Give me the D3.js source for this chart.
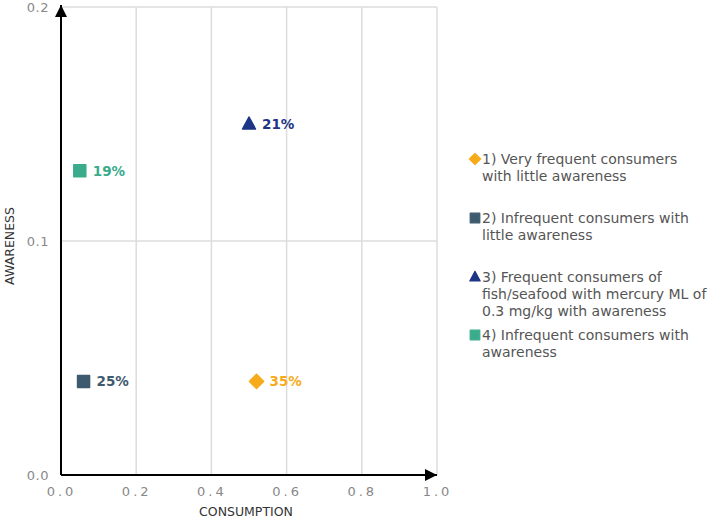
<!DOCTYPE html>
<html>
<head>
<meta charset="utf-8">
<script src="https://cdn.jsdelivr.net/npm/d3@7"></script>
<style>
  body { margin: 0; background: #fff; }
  text { font-family: "DejaVu Sans", Verdana, sans-serif; }
</style>
</head>
<body>
<div id="container"></div>
<script>
// data
let groups = [
  "1) Very frequent consumers with little awareness",
  "2) Infrequent consumers with little awareness",
  "3) Frequent consumers of fish/seafood with mercury ML of 0.3 mg/kg with awareness",
  "4) Infrequent consumers with awareness"
];
let legendLines = [
  ["1) Very frequent consumers", "with little awareness"],
  ["2) Infrequent consumers with", "little awareness"],
  ["3) Frequent consumers of", "fish/seafood with mercury ML of", "0.3 mg/kg with awareness"],
  ["4) Infrequent consumers with", "awareness"]
];
let consumption = [0.52, 0.06, 0.50, 0.05];
let awareness = [0.04, 0.04, 0.15, 0.13];
let shares = ["35%", "25%", "21%", "19%"];
let colors = ["#f7ab1a", "#3e5a6e", "#1e3485", "#3aac8c"];
let shapes = ["diamond", "square", "triangle", "square"];
let xTicks = [0, 0.2, 0.4, 0.6, 0.8, 1.0];
let yTicks = [0, 0.1, 0.2];

let viz = d3.select("#container")
  .append("svg")
    .attr("width", 709)
    .attr("height", 521)
;

let x = d3.scaleLinear().domain([0, 1]).range([61, 437]);
let y = d3.scaleLinear().domain([0, 0.2]).range([475, 7]);

// grid
viz.append("g")
  .selectAll("line")
  .data(xTicks.slice(1))
  .join("line")
    .attr("x1", d => x(d))
    .attr("x2", d => x(d))
    .attr("y1", y(0))
    .attr("y2", y(0.2))
    .attr("stroke", "#dcdcdc")
    .attr("stroke-width", 1.5)
;
viz.append("g")
  .selectAll("line")
  .data(yTicks.slice(1))
  .join("line")
    .attr("x1", x(0))
    .attr("x2", x(1))
    .attr("y1", d => y(d))
    .attr("y2", d => y(d))
    .attr("stroke", "#dcdcdc")
    .attr("stroke-width", 1.5)
;

// axes
let xAxis = viz.append("g")
  .attr("transform", "translate(0," + y(0) + ")")
  .call(d3.axisBottom(x).tickValues(xTicks).tickFormat(d3.format(".1f")).tickSize(0).tickPadding(12));
let yAxis = viz.append("g")
  .attr("transform", "translate(" + x(0) + ",0)")
  .call(d3.axisLeft(y).tickValues(yTicks).tickFormat(d3.format(".1f")).tickSize(0).tickPadding(12));

xAxis.select(".domain").remove();
yAxis.select(".domain").remove();
xAxis.selectAll("text")
    .attr("fill", "#888")
    .attr("font-family", "DejaVu Sans")
    .attr("font-size", 13)
    .attr("letter-spacing", 3);
yAxis.selectAll("text")
    .attr("fill", "#888")
    .attr("font-family", "DejaVu Sans")
    .attr("font-size", 13)
    .attr("letter-spacing", 0.5);

viz.append("defs").append("marker")
    .attr("id", "arrow")
    .attr("viewBox", "0 0 10 10")
    .attr("refX", 10)
    .attr("refY", 5)
    .attr("markerWidth", 12)
    .attr("markerHeight", 12)
    .attr("markerUnits", "userSpaceOnUse")
    .attr("orient", "auto")
  .append("path")
    .attr("d", "M0,0 L10,5 L0,10 Z")
    .attr("fill", "black")
;

viz.append("line")
    .attr("x1", x(0))
    .attr("y1", y(0))
    .attr("x2", x(1))
    .attr("y2", y(0))
    .attr("stroke", "black")
    .attr("stroke-width", 2)
    .attr("marker-end", "url(#arrow)")
;
viz.append("line")
    .attr("x1", x(0))
    .attr("y1", y(0))
    .attr("x2", x(0))
    .attr("y2", y(0.2) - 2)
    .attr("stroke", "black")
    .attr("stroke-width", 2)
    .attr("marker-end", "url(#arrow)")
;

// axis titles
viz.append("text")
    .text("CONSUMPTION")
    .attr("x", 246)
    .attr("y", 516)
    .attr("text-anchor", "middle")
    .attr("font-size", 12.5)
    .attr("fill", "#333")
;
viz.append("text")
    .text("AWARENESS")
    .attr("transform", "translate(14," + (y(0.1) + 5) + ") rotate(-90)")
    .attr("text-anchor", "middle")
    .attr("font-size", 12.5)
    .attr("fill", "#333")
;

// marker shapes
function shapePath(s) {
  if (s == "diamond") return "M0,-7 L7,0 L0,7 L-7,0 Z";
  if (s == "triangle") return "M0,-7 L6.5,5 L-6.5,5 Z";
  return "M-6,-6 L6,-6 L6,6 L-6,6 Z";
}

let pts = viz.append("g")
  .selectAll("g")
  .data(groups)
  .join("g")
    .attr("transform", (d, i) => "translate(" + x(consumption[i]) + "," + y(awareness[i]) + ")")
;
pts.append("path")
    .attr("d", (d, i) => shapePath(shapes[i]))
    .attr("fill", (d, i) => colors[i])
    .attr("stroke", (d, i) => colors[i])
    .attr("stroke-width", 1.5)
    .attr("stroke-linejoin", "round")
;
pts.append("text")
    .text((d, i) => shares[i])
    .attr("x", 13)
    .attr("y", 5)
    .attr("font-size", 13.5)
    .attr("font-weight", "bold")
    .attr("fill", (d, i) => colors[i])
;

// legend
let legendY = [159, 218, 277, 335];
let leg = viz.append("g")
  .selectAll("g")
  .data(groups)
  .join("g")
    .attr("transform", (d, i) => "translate(475," + legendY[i] + ")")
;
leg.append("path")
    .attr("d", (d, i) => shapePath(shapes[i]))
    .attr("transform", "scale(0.8)")
    .attr("fill", (d, i) => colors[i])
    .attr("stroke", (d, i) => colors[i])
    .attr("stroke-width", 1.5)
    .attr("stroke-linejoin", "round")
;
leg.append("text")
    .attr("x", 7)
    .attr("y", 5)
    .attr("font-size", 14)
    .attr("fill", "#555")
  .selectAll("tspan")
  .data((d, i) => legendLines[i])
  .join("tspan")
    .attr("x", 7)
    .attr("dy", (d, j) => j == 0 ? 0 : 17)
    .text(d => d)
;
</script>
</body>
</html>
